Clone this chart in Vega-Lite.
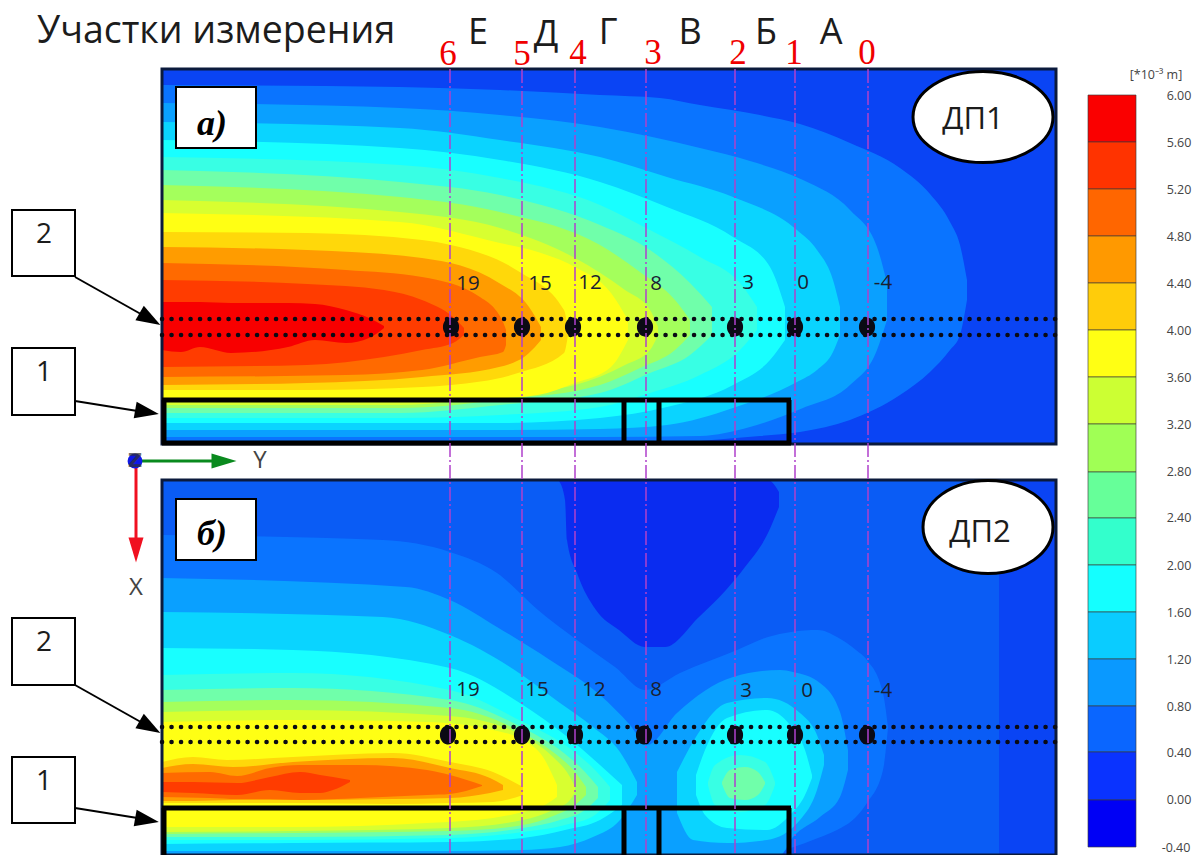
{"$schema":"https://vega.github.io/schema/vega-lite/v6.json","width":1192,"height":855,"padding":0,"autosize":{"type":"none"},"background":"white","config":{"view":{"stroke":null}},
"datasets":{"contour":[
{"g":"a","v":0,"x":162,"y":69,"y2":444},{"g":"a","v":0,"x":1056,"y":69,"y2":444},
{"g":"a","v":0.4,"x":162,"y":85,"y2":444},{"g":"a","v":0.4,"x":400,"y":87,"y2":444},{"g":"a","v":0.4,"x":500,"y":90,"y2":444},{"g":"a","v":0.4,"x":600,"y":95,"y2":444},{"g":"a","v":0.4,"x":660,"y":98,"y2":444},{"g":"a","v":0.4,"x":700,"y":105,"y2":441},{"g":"a","v":0.4,"x":760,"y":115,"y2":436},{"g":"a","v":0.4,"x":800,"y":124,"y2":432},{"g":"a","v":0.4,"x":850,"y":143,"y2":420},{"g":"a","v":0.4,"x":900,"y":168,"y2":395},{"g":"a","v":0.4,"x":930,"y":194,"y2":372},{"g":"a","v":0.4,"x":950,"y":222,"y2":350},{"g":"a","v":0.4,"x":960,"y":245,"y2":335},{"g":"a","v":0.4,"x":967,"y":280,"y2":300},
{"g":"a","v":0.8,"x":162,"y":103,"y2":437},{"g":"a","v":0.8,"x":400,"y":108,"y2":437},{"g":"a","v":0.8,"x":500,"y":115,"y2":437},{"g":"a","v":0.8,"x":600,"y":127,"y2":437},{"g":"a","v":0.8,"x":700,"y":148,"y2":436},{"g":"a","v":0.8,"x":750,"y":161,"y2":427},{"g":"a","v":0.8,"x":803,"y":180,"y2":408},{"g":"a","v":0.8,"x":850,"y":210,"y2":385},{"g":"a","v":0.8,"x":877,"y":247,"y2":350},{"g":"a","v":0.8,"x":887,"y":283,"y2":320},
{"g":"a","v":1.2,"x":162,"y":122,"y2":430},{"g":"a","v":1.2,"x":400,"y":128,"y2":430},{"g":"a","v":1.2,"x":500,"y":140,"y2":430},{"g":"a","v":1.2,"x":600,"y":157,"y2":429},{"g":"a","v":1.2,"x":667,"y":177,"y2":425},{"g":"a","v":1.2,"x":733,"y":197,"y2":408},{"g":"a","v":1.2,"x":797,"y":230,"y2":382},{"g":"a","v":1.2,"x":817,"y":250,"y2":370},{"g":"a","v":1.2,"x":833,"y":280,"y2":352},{"g":"a","v":1.2,"x":840,"y":307,"y2":335},
{"g":"a","v":1.6,"x":162,"y":140,"y2":423},{"g":"a","v":1.6,"x":400,"y":148,"y2":423},{"g":"a","v":1.6,"x":500,"y":160,"y2":423},{"g":"a","v":1.6,"x":600,"y":182,"y2":418},{"g":"a","v":1.6,"x":667,"y":207,"y2":407},{"g":"a","v":1.6,"x":733,"y":237,"y2":385},{"g":"a","v":1.6,"x":770,"y":267,"y2":360},{"g":"a","v":1.6,"x":785,"y":307,"y2":340},
{"g":"a","v":2,"x":162,"y":157,"y2":418},{"g":"a","v":2,"x":400,"y":165,"y2":418},{"g":"a","v":2,"x":500,"y":178,"y2":415},{"g":"a","v":2,"x":600,"y":205,"y2":407},{"g":"a","v":2,"x":650,"y":230,"y2":393},{"g":"a","v":2,"x":700,"y":257,"y2":375},{"g":"a","v":2,"x":740,"y":283,"y2":350},{"g":"a","v":2,"x":757,"y":307,"y2":330},
{"g":"a","v":2.4,"x":162,"y":170,"y2":413},{"g":"a","v":2.4,"x":400,"y":182,"y2":413},{"g":"a","v":2.4,"x":500,"y":195,"y2":405},{"g":"a","v":2.4,"x":600,"y":225,"y2":393},{"g":"a","v":2.4,"x":650,"y":250,"y2":373},{"g":"a","v":2.4,"x":690,"y":283,"y2":355},{"g":"a","v":2.4,"x":712,"y":307,"y2":335},
{"g":"a","v":2.8,"x":162,"y":185,"y2":408},{"g":"a","v":2.8,"x":400,"y":197,"y2":408},{"g":"a","v":2.8,"x":500,"y":212,"y2":400},{"g":"a","v":2.8,"x":600,"y":245,"y2":385},{"g":"a","v":2.8,"x":640,"y":272,"y2":368},{"g":"a","v":2.8,"x":675,"y":300,"y2":350},{"g":"a","v":2.8,"x":690,"y":320,"y2":335},
{"g":"a","v":3.2,"x":162,"y":200,"y2":405},{"g":"a","v":3.2,"x":400,"y":212,"y2":405},{"g":"a","v":3.2,"x":500,"y":228,"y2":395},{"g":"a","v":3.2,"x":575,"y":258,"y2":385},{"g":"a","v":3.2,"x":625,"y":290,"y2":365},{"g":"a","v":3.2,"x":650,"y":310,"y2":350},{"g":"a","v":3.2,"x":658,"y":327,"y2":335},
{"g":"a","v":3.6,"x":162,"y":213,"y2":398},{"g":"a","v":3.6,"x":400,"y":222,"y2":398},{"g":"a","v":3.6,"x":500,"y":243,"y2":398},{"g":"a","v":3.6,"x":538,"y":252,"y2":395},{"g":"a","v":3.6,"x":575,"y":267,"y2":383},{"g":"a","v":3.6,"x":611,"y":293,"y2":367},{"g":"a","v":3.6,"x":628,"y":320,"y2":340},
{"g":"a","v":4,"x":162,"y":232,"y2":390},{"g":"a","v":4,"x":307,"y":233,"y2":390},{"g":"a","v":4,"x":422,"y":240,"y2":387},{"g":"a","v":4,"x":451,"y":245,"y2":385},{"g":"a","v":4,"x":518,"y":271,"y2":373},{"g":"a","v":4,"x":564,"y":310,"y2":353},{"g":"a","v":4,"x":568,"y":330,"y2":335},
{"g":"a","v":4.4,"x":162,"y":247,"y2":385},{"g":"a","v":4.4,"x":307,"y":250,"y2":383},{"g":"a","v":4.4,"x":422,"y":258,"y2":377},{"g":"a","v":4.4,"x":499,"y":283,"y2":367},{"g":"a","v":4.4,"x":529,"y":307,"y2":353},{"g":"a","v":4.4,"x":541,"y":327,"y2":340},
{"g":"a","v":4.8,"x":162,"y":263,"y2":377},{"g":"a","v":4.8,"x":346,"y":270,"y2":375},{"g":"a","v":4.8,"x":422,"y":277,"y2":370},{"g":"a","v":4.8,"x":480,"y":297,"y2":357},{"g":"a","v":4.8,"x":503,"y":322,"y2":352},{"g":"a","v":4.8,"x":506,"y":330,"y2":345},
{"g":"a","v":5.2,"x":162,"y":280,"y2":367},{"g":"a","v":5.2,"x":307,"y":284,"y2":365},{"g":"a","v":5.2,"x":384,"y":290,"y2":357},{"g":"a","v":5.2,"x":422,"y":300,"y2":350},{"g":"a","v":5.2,"x":453,"y":317,"y2":343},{"g":"a","v":5.2,"x":464,"y":328,"y2":335},
{"g":"a","v":5.6,"x":162,"y":302,"y2":350},{"g":"a","v":5.6,"x":181,"y":302,"y2":352},{"g":"a","v":5.6,"x":200,"y":302,"y2":347},{"g":"a","v":5.6,"x":231,"y":303,"y2":353},{"g":"a","v":5.6,"x":288,"y":303,"y2":347},{"g":"a","v":5.6,"x":315,"y":304,"y2":340},{"g":"a","v":5.6,"x":346,"y":310,"y2":343},{"g":"a","v":5.6,"x":369,"y":318,"y2":338},{"g":"a","v":5.6,"x":384,"y":326,"y2":328},
{"g":"b","v":0.2,"x":162,"y":480,"y2":855},{"g":"b","v":0.2,"x":1056,"y":480,"y2":855},
{"g":"s","v":0,"x":999,"y":480,"y2":855},{"g":"s","v":0,"x":1056,"y":480,"y2":855},
{"g":"b","v":-0.4,"x":559,"y":480,"y2":481},{"g":"b","v":-0.4,"x":565,"y":480,"y2":500},{"g":"b","v":-0.4,"x":567,"y":480,"y2":540},{"g":"b","v":-0.4,"x":577,"y":480,"y2":573},{"g":"b","v":-0.4,"x":596,"y":480,"y2":610},{"g":"b","v":-0.4,"x":619,"y":480,"y2":630},{"g":"b","v":-0.4,"x":645,"y":480,"y2":647},{"g":"b","v":-0.4,"x":665,"y":480,"y2":647},{"g":"b","v":-0.4,"x":699,"y":480,"y2":617},{"g":"b","v":-0.4,"x":726,"y":480,"y2":590},{"g":"b","v":-0.4,"x":745,"y":480,"y2":567},{"g":"b","v":-0.4,"x":768,"y":480,"y2":533},{"g":"b","v":-0.4,"x":779,"y":492,"y2":507},
{"g":"b","v":0.4,"x":162,"y":535,"y2":855},{"g":"b","v":0.4,"x":383,"y":540,"y2":855},{"g":"b","v":0.4,"x":450,"y":552,"y2":855},{"g":"b","v":0.4,"x":497,"y":573,"y2":855},{"g":"b","v":0.4,"x":538,"y":610,"y2":855},{"g":"b","v":0.4,"x":577,"y":640,"y2":855},{"g":"b","v":0.4,"x":615,"y":667,"y2":855},{"g":"b","v":0.4,"x":645,"y":690,"y2":855},{"g":"b","v":0.4,"x":680,"y":673,"y2":855},{"g":"b","v":0.4,"x":737,"y":650,"y2":855},{"g":"b","v":0.4,"x":768,"y":637,"y2":855},{"g":"b","v":0.4,"x":791,"y":632,"y2":848},{"g":"b","v":0.4,"x":818,"y":630,"y2":838},{"g":"b","v":0.4,"x":837,"y":637,"y2":830},{"g":"b","v":0.4,"x":856,"y":650,"y2":817},{"g":"b","v":0.4,"x":867,"y":660,"y2":803},{"g":"b","v":0.4,"x":883,"y":693,"y2":770},{"g":"b","v":0.4,"x":888,"y":727,"y2":728},
{"g":"b","v":0.8,"x":162,"y":578,"y2":855},{"g":"b","v":0.8,"x":406,"y":587,"y2":855},{"g":"b","v":0.8,"x":450,"y":600,"y2":855},{"g":"b","v":0.8,"x":497,"y":627,"y2":855},{"g":"b","v":0.8,"x":550,"y":660,"y2":855},{"g":"b","v":0.8,"x":600,"y":695,"y2":855},{"g":"b","v":0.8,"x":630,"y":725,"y2":855},{"g":"b","v":0.8,"x":647,"y":745,"y2":855},{"g":"b","v":0.8,"x":677,"y":713,"y2":855},{"g":"b","v":0.8,"x":733,"y":677,"y2":855},{"g":"b","v":0.8,"x":780,"y":670,"y2":855},{"g":"b","v":0.8,"x":793,"y":672,"y2":837},{"g":"b","v":0.8,"x":820,"y":683,"y2":817},{"g":"b","v":0.8,"x":840,"y":712,"y2":797},{"g":"b","v":0.8,"x":848,"y":750,"y2":770},
{"g":"b","v":1.2,"x":162,"y":612,"y2":851},{"g":"b","v":1.2,"x":383,"y":617,"y2":851},{"g":"b","v":1.2,"x":450,"y":635,"y2":851},{"g":"b","v":1.2,"x":522,"y":675,"y2":850},{"g":"b","v":1.2,"x":560,"y":703,"y2":847},{"g":"b","v":1.2,"x":593,"y":727,"y2":837},{"g":"b","v":1.2,"x":620,"y":752,"y2":820},{"g":"b","v":1.2,"x":637,"y":782,"y2":795},
{"g":"h","v":1.2,"x":677,"y":772,"y2":813},{"g":"h","v":1.2,"x":693,"y":742,"y2":840},{"g":"h","v":1.2,"x":727,"y":703,"y2":843},{"g":"h","v":1.2,"x":767,"y":698,"y2":840},{"g":"h","v":1.2,"x":800,"y":713,"y2":820},{"g":"h","v":1.2,"x":817,"y":735,"y2":790},{"g":"h","v":1.2,"x":824,"y":755,"y2":765},
{"g":"h","v":1.6,"x":696,"y":775,"y2":795},{"g":"h","v":1.6,"x":705,"y":750,"y2":815},{"g":"h","v":1.6,"x":727,"y":718,"y2":828},{"g":"h","v":1.6,"x":767,"y":710,"y2":830},{"g":"h","v":1.6,"x":790,"y":725,"y2":815},{"g":"h","v":1.6,"x":805,"y":750,"y2":795},{"g":"h","v":1.6,"x":812,"y":775,"y2":778},
{"g":"h","v":2,"x":708,"y":782,"y2":785},{"g":"h","v":2,"x":715,"y":765,"y2":805},{"g":"h","v":2,"x":740,"y":755,"y2":812},{"g":"h","v":2,"x":765,"y":762,"y2":805},{"g":"h","v":2,"x":775,"y":782,"y2":785},
{"g":"h","v":2.4,"x":722,"y":782,"y2":784},{"g":"h","v":2.4,"x":730,"y":770,"y2":798},{"g":"h","v":2.4,"x":745,"y":767,"y2":800},{"g":"h","v":2.4,"x":758,"y":772,"y2":795},{"g":"h","v":2.4,"x":765,"y":782,"y2":784},
{"g":"b","v":1.6,"x":162,"y":648,"y2":844},{"g":"b","v":1.6,"x":293,"y":650,"y2":843},{"g":"b","v":1.6,"x":450,"y":668,"y2":842},{"g":"b","v":1.6,"x":523,"y":705,"y2":838},{"g":"b","v":1.6,"x":565,"y":735,"y2":830},{"g":"b","v":1.6,"x":600,"y":765,"y2":820},{"g":"b","v":1.6,"x":622,"y":785,"y2":805},
{"g":"b","v":2,"x":162,"y":675,"y2":840},{"g":"b","v":2,"x":293,"y":673,"y2":840},{"g":"b","v":2,"x":450,"y":690,"y2":838},{"g":"b","v":2,"x":523,"y":722,"y2":832},{"g":"b","v":2,"x":565,"y":745,"y2":825},{"g":"b","v":2,"x":595,"y":770,"y2":815},{"g":"b","v":2,"x":610,"y":787,"y2":800},
{"g":"b","v":2.4,"x":162,"y":690,"y2":837},{"g":"b","v":2.4,"x":293,"y":688,"y2":837},{"g":"b","v":2.4,"x":450,"y":700,"y2":835},{"g":"b","v":2.4,"x":523,"y":728,"y2":828},{"g":"b","v":2.4,"x":560,"y":750,"y2":820},{"g":"b","v":2.4,"x":585,"y":772,"y2":810},{"g":"b","v":2.4,"x":598,"y":787,"y2":798},
{"g":"b","v":2.8,"x":162,"y":702,"y2":834},{"g":"b","v":2.8,"x":293,"y":700,"y2":833},{"g":"b","v":2.8,"x":450,"y":708,"y2":831},{"g":"b","v":2.8,"x":523,"y":733,"y2":825},{"g":"b","v":2.8,"x":553,"y":752,"y2":816},{"g":"b","v":2.8,"x":575,"y":772,"y2":805},{"g":"b","v":2.8,"x":586,"y":787,"y2":795},
{"g":"b","v":3.2,"x":162,"y":712,"y2":832},{"g":"b","v":3.2,"x":293,"y":710,"y2":831},{"g":"b","v":3.2,"x":450,"y":716,"y2":828},{"g":"b","v":3.2,"x":523,"y":736,"y2":820},{"g":"b","v":3.2,"x":553,"y":757,"y2":810},{"g":"b","v":3.2,"x":570,"y":777,"y2":800},{"g":"b","v":3.2,"x":575,"y":787,"y2":792},
{"g":"b","v":3.6,"x":162,"y":722,"y2":827},{"g":"b","v":3.6,"x":293,"y":720,"y2":827},{"g":"b","v":3.6,"x":427,"y":722,"y2":823},{"g":"b","v":3.6,"x":493,"y":730,"y2":818},{"g":"b","v":3.6,"x":523,"y":740,"y2":812},{"g":"b","v":3.6,"x":543,"y":757,"y2":806},{"g":"b","v":3.6,"x":557,"y":785,"y2":797},
{"g":"b","v":4,"x":162,"y":762,"y2":803},{"g":"b","v":4,"x":193,"y":757,"y2":803},{"g":"b","v":4,"x":227,"y":760,"y2":803},{"g":"b","v":4,"x":293,"y":757,"y2":803},{"g":"b","v":4,"x":393,"y":753,"y2":804},{"g":"b","v":4,"x":450,"y":762,"y2":803},{"g":"b","v":4,"x":493,"y":772,"y2":802},{"g":"b","v":4,"x":523,"y":787,"y2":795},
{"g":"b","v":4.4,"x":162,"y":768,"y2":801},{"g":"b","v":4.4,"x":193,"y":764,"y2":801},{"g":"b","v":4.4,"x":233,"y":767,"y2":800},{"g":"b","v":4.4,"x":293,"y":762,"y2":800},{"g":"b","v":4.4,"x":393,"y":758,"y2":799},{"g":"b","v":4.4,"x":450,"y":768,"y2":798},{"g":"b","v":4.4,"x":490,"y":778,"y2":793},{"g":"b","v":4.4,"x":503,"y":785,"y2":790},
{"g":"b","v":4.8,"x":162,"y":773,"y2":797},{"g":"b","v":4.8,"x":210,"y":772,"y2":798},{"g":"b","v":4.8,"x":237,"y":776,"y2":799},{"g":"b","v":4.8,"x":270,"y":768,"y2":799},{"g":"b","v":4.8,"x":300,"y":765,"y2":800},{"g":"b","v":4.8,"x":360,"y":765,"y2":798},{"g":"b","v":4.8,"x":427,"y":770,"y2":795},{"g":"b","v":4.8,"x":450,"y":775,"y2":794},{"g":"b","v":4.8,"x":482,"y":785,"y2":786},
{"g":"b","v":5.2,"x":162,"y":782,"y2":792},{"g":"b","v":5.2,"x":193,"y":782,"y2":793},{"g":"b","v":5.2,"x":237,"y":783,"y2":795},{"g":"b","v":5.2,"x":270,"y":777,"y2":790},{"g":"b","v":5.2,"x":300,"y":772,"y2":793},{"g":"b","v":5.2,"x":320,"y":775,"y2":793},{"g":"b","v":5.2,"x":333,"y":777,"y2":790},{"g":"b","v":5.2,"x":350,"y":780,"y2":782}
]},
"encoding":{"x":{"field":"x","type":"quantitative","axis":null,"scale":{"domain":[0,1192],"nice":false,"zero":false}},"y":{"field":"y","type":"quantitative","axis":null,"scale":{"domain":[855,0],"nice":false,"zero":false}}},
"resolve":{"scale":{"color":"independent"}},
"layer":[
{"data":{"name":"contour"},"mark":{"type":"area","orient":"vertical","interpolate":"monotone"},"encoding":{"y2":{"field":"y2"},"detail":{"field":"g"},"color":{"field":"v","type":"ordinal","legend":null,"scale":{"domain":[-0.4,0,0.2,0.4,0.8,1.2,1.6,2,2.4,2.8,3.2,3.6,4,4.4,4.8,5.2,5.6],"range":["#0a2cf0","#0a44f4","#0a5cf5","#0a74ff","#0aa0ff","#0ad4ff","#18ffff","#38ffe4","#70ffaa","#a4ff5c","#d8ff30","#ffff14","#ffd80a","#ff9c00","#ff6a00","#ff3c00","#f80000"]}}}},
{"data":{"values":[{"x":162,"y":69,"x2":1056,"y2":444},{"x":162,"y":480,"x2":1056,"y2":855}]},"mark":{"type":"rect","fill":null,"stroke":"#0b1a3c","strokeWidth":3},"encoding":{"x2":{"field":"x2"},"y2":{"field":"y2"}}},
{"data":{"values":[{"x":162,"x2":1056,"y":319},{"x":162,"x2":1056,"y":335},{"x":162,"x2":1056,"y":727},{"x":162,"x2":1056,"y":742}]},"mark":{"type":"rule","color":"#0a0a14","strokeWidth":4.5,"strokeCap":"round","strokeDash":[0.1,9.4]},"encoding":{"x2":{"field":"x2"}}},
{"data":{"values":[{"x":451,"y":327},{"x":522,"y":327},{"x":573,"y":327},{"x":645,"y":327},{"x":735,"y":327},{"x":795,"y":327},{"x":867,"y":327},{"x":448,"y":735},{"x":522,"y":735},{"x":575,"y":735},{"x":644,"y":735},{"x":735,"y":735},{"x":795,"y":735},{"x":867,"y":735}]},"mark":{"type":"point","filled":true,"opacity":1,"color":"#0a0a14","size":361,"shape":"M-0.85,0A0.85,1,0,1,1,0.85,0A0.85,1,0,1,1,-0.85,0Z"}},
{"data":{"values":[{"x":162,"y":400,"x2":791,"y2":400},{"x":164,"y":400,"x2":164,"y2":444},{"x":162,"y":443,"x2":791,"y2":443},{"x":624,"y":400,"x2":624,"y2":444},{"x":659,"y":400,"x2":659,"y2":444},{"x":789,"y":400,"x2":789,"y2":444},{"x":162,"y":808,"x2":791,"y2":808},{"x":164,"y":808,"x2":164,"y2":855},{"x":624,"y":808,"x2":624,"y2":855},{"x":659,"y":808,"x2":659,"y2":855},{"x":789,"y":808,"x2":789,"y2":855}]},"mark":{"type":"rule","color":"#000000","strokeWidth":5},"encoding":{"x2":{"field":"x2"},"y2":{"field":"y2"}}},
{"data":{"values":[{"x":450,"y":69,"y2":855},{"x":522,"y":69,"y2":855},{"x":575,"y":69,"y2":855},{"x":646,"y":69,"y2":855},{"x":735,"y":69,"y2":855},{"x":795,"y":69,"y2":855},{"x":868,"y":69,"y2":855}]},"mark":{"type":"rule","color":"#b040cc","strokeWidth":1.5,"strokeDash":[14,3,2,3]},"encoding":{"y2":{"field":"y2"}}},
{"data":{"values":[{"x":176,"x2":256,"y":87,"y2":148},{"x":176,"x2":256,"y":499,"y2":560},{"x":12,"x2":75,"y":210,"y2":276},{"x":12,"x2":75,"y":348,"y2":415},{"x":12,"x2":75,"y":618,"y2":685},{"x":12,"x2":75,"y":757,"y2":823}]},"mark":{"type":"rect","fill":"white","stroke":"#000000","strokeWidth":2},"encoding":{"x2":{"field":"x2"},"y2":{"field":"y2"}}},
{"data":{"values":[{"x":75,"y":277,"x2":155,"y2":322},{"x":75,"y":401,"x2":150,"y2":413},{"x":75,"y":685,"x2":155,"y2":730},{"x":75,"y":808,"x2":150,"y2":820}]},"mark":{"type":"rule","color":"#000000","strokeWidth":2},"encoding":{"x2":{"field":"x2"},"y2":{"field":"y2"}}},
{"data":{"values":[{"x":150,"y":319,"a":30},{"x":147,"y":412,"a":10},{"x":150,"y":727,"a":30},{"x":147,"y":820,"a":10}]},"mark":{"type":"point","filled":true,"opacity":1,"color":"#000000","size":576,"shape":"M-1,-0.7L1,0L-1,0.7Z"},"encoding":{"angle":{"field":"a","type":"quantitative","scale":null}}},
{"data":{"values":[{"x":136,"y":461,"x2":215}]},"mark":{"type":"rule","color":"#0a8a1e","strokeWidth":3},"encoding":{"x2":{"field":"x2"}}},
{"data":{"values":[{"x":224,"y":461,"a":0}]},"mark":{"type":"point","filled":true,"opacity":1,"color":"#0a8a1e","size":625,"shape":"M-1,-0.6L1,0L-1,0.6Z"},"encoding":{"angle":{"field":"a","type":"quantitative","scale":null}}},
{"data":{"values":[{"x":136,"y":465,"y2":540}]},"mark":{"type":"rule","color":"#f01020","strokeWidth":3},"encoding":{"y2":{"field":"y2"}}},
{"data":{"values":[{"x":136,"y":550,"a":90}]},"mark":{"type":"point","filled":true,"opacity":1,"color":"#f01020","size":625,"shape":"M-1,-0.6L1,0L-1,0.6Z"},"encoding":{"angle":{"field":"a","type":"quantitative","scale":null}}},
{"data":{"values":[{"x":135,"y":461}]},"mark":{"type":"point","filled":true,"opacity":1,"color":"#1018e8","size":220}},
{"data":{"values":[{"x":135,"y":461,"t":"Z"}]},"mark":{"type":"text","font":"DejaVu Sans","fontSize":20,"fontWeight":"bold","color":"#333333","opacity":0.7},"encoding":{"text":{"field":"t"}}},
{"data":{"values":[{"x":983,"y":117}]},"mark":{"type":"point","filled":true,"opacity":1,"fill":"white","stroke":"#000000","strokeWidth":3,"size":19600,"shape":"M-1,0A1,0.65,0,1,1,1,0A1,0.65,0,1,1,-1,0Z"}},
{"data":{"values":[{"x":988,"y":527}]},"mark":{"type":"point","filled":true,"opacity":1,"fill":"white","stroke":"#000000","strokeWidth":3,"size":16900,"shape":"M-1,0A1,0.715,0,1,1,1,0A1,0.715,0,1,1,-1,0Z"}},
{"data":{"values":[{"x":37,"y":32,"t":"Участки измерения"}]},"mark":{"type":"text","align":"left","font":"Open Sans","fontSize":37.5,"color":"#1c1c1c"},"encoding":{"text":{"field":"t"}}},
{"data":{"values":[{"x":478,"y":33,"t":"Е"},{"x":546,"y":35,"t":"Д"},{"x":608,"y":33,"t":"Г"},{"x":690,"y":33,"t":"В"},{"x":766,"y":33,"t":"Б"},{"x":831,"y":33,"t":"А"}]},"mark":{"type":"text","font":"Open Sans","fontSize":36,"color":"#1c1c1c"},"encoding":{"text":{"field":"t"}}},
{"data":{"values":[{"x":448,"y":54,"t":"6"},{"x":522,"y":54,"t":"5"},{"x":578,"y":53,"t":"4"},{"x":653,"y":53,"t":"3"},{"x":738,"y":53,"t":"2"},{"x":794,"y":53,"t":"1"},{"x":867,"y":53,"t":"0"}]},"mark":{"type":"text","font":"Liberation Serif","fontSize":35,"color":"#f00000"},"encoding":{"text":{"field":"t"}}},
{"data":{"values":[{"x":468,"y":284,"t":"19"},{"x":540,"y":284,"t":"15"},{"x":590,"y":283,"t":"12"},{"x":656,"y":284,"t":"8"},{"x":748,"y":283,"t":"3"},{"x":803,"y":283,"t":"0"},{"x":883,"y":283,"t":"-4"},{"x":468,"y":690,"t":"19"},{"x":537,"y":690,"t":"15"},{"x":594,"y":690,"t":"12"},{"x":656,"y":690,"t":"8"},{"x":746,"y":691,"t":"3"},{"x":807,"y":691,"t":"0"},{"x":883,"y":691,"t":"-4"}]},"mark":{"type":"text","font":"Open Sans","fontSize":20.5,"color":"#1a2030"},"encoding":{"text":{"field":"t"}}},
{"data":{"values":[{"x":44,"y":235,"t":"2"},{"x":44,"y":373,"t":"1"},{"x":44,"y":643,"t":"2"},{"x":44,"y":782,"t":"1"}]},"mark":{"type":"text","font":"Open Sans","fontSize":28,"color":"#1c1c1c"},"encoding":{"text":{"field":"t"}}},
{"data":{"values":[{"x":212,"y":124,"t":"а)"},{"x":212,"y":534,"t":"б)"}]},"mark":{"type":"text","font":"Liberation Serif","fontSize":36,"fontStyle":"italic","fontWeight":"bold","color":"#000000"},"encoding":{"text":{"field":"t"}}},
{"data":{"values":[{"x":973,"y":120,"t":"ДП1"},{"x":980,"y":533,"t":"ДП2"}]},"mark":{"type":"text","font":"Open Sans","fontSize":31,"color":"#1c1c1c"},"encoding":{"text":{"field":"t"}}},
{"data":{"values":[{"x":260,"y":461,"t":"Y"},{"x":136,"y":588,"t":"X"}]},"mark":{"type":"text","font":"Open Sans","fontSize":24,"color":"#444444"},"encoding":{"text":{"field":"t"}}},
{"data":{"values":[{"v":"5.6","x":1088,"x2":1136,"y":95,"y2":142},{"v":"5.2","x":1088,"x2":1136,"y":142,"y2":189},{"v":"4.8","x":1088,"x2":1136,"y":189,"y2":236},{"v":"4.4","x":1088,"x2":1136,"y":236,"y2":283},{"v":"4.0","x":1088,"x2":1136,"y":283,"y2":330},{"v":"3.6","x":1088,"x2":1136,"y":330,"y2":377},{"v":"3.2","x":1088,"x2":1136,"y":377,"y2":424},{"v":"2.8","x":1088,"x2":1136,"y":424,"y2":472},{"v":"2.4","x":1088,"x2":1136,"y":472,"y2":518},{"v":"2.0","x":1088,"x2":1136,"y":518,"y2":565},{"v":"1.6","x":1088,"x2":1136,"y":565,"y2":612},{"v":"1.2","x":1088,"x2":1136,"y":612,"y2":659},{"v":"0.8","x":1088,"x2":1136,"y":659,"y2":706},{"v":"0.4","x":1088,"x2":1136,"y":706,"y2":752},{"v":"0.0","x":1088,"x2":1136,"y":752,"y2":800},{"v":"-0.4","x":1088,"x2":1136,"y":800,"y2":847}]},"mark":{"type":"rect","stroke":"#3a3a3a","strokeWidth":0.8,"strokeOpacity":0.8},"encoding":{"x2":{"field":"x2"},"y2":{"field":"y2"},"color":{"field":"v","type":"ordinal","legend":null,"scale":{"domain":["5.6","5.2","4.8","4.4","4.0","3.6","3.2","2.8","2.4","2.0","1.6","1.2","0.8","0.4","0.0","-0.4"],"range":["#fa0000","#ff3300","#ff6600","#ff9900","#ffcc0a","#ffff14","#ccff33","#a0ff55","#66ff99","#33ffcc","#14ffff","#0accff","#0a99ff","#0a66ff","#0a33ff","#0000f5"]}}}},
{"data":{"values":[{"x":1179,"y":96,"t":"6.00"},{"x":1179,"y":143,"t":"5.60"},{"x":1179,"y":190,"t":"5.20"},{"x":1179,"y":237,"t":"4.80"},{"x":1179,"y":284,"t":"4.40"},{"x":1179,"y":331,"t":"4.00"},{"x":1179,"y":378,"t":"3.60"},{"x":1179,"y":425,"t":"3.20"},{"x":1179,"y":472,"t":"2.80"},{"x":1179,"y":518,"t":"2.40"},{"x":1179,"y":566,"t":"2.00"},{"x":1179,"y":613,"t":"1.60"},{"x":1179,"y":660,"t":"1.20"},{"x":1179,"y":707,"t":"0.80"},{"x":1179,"y":753,"t":"0.40"},{"x":1179,"y":800,"t":"0.00"},{"x":1176,"y":848,"t":"-0.40"},{"x":1156,"y":75,"t":"[*10⁻³ m]"}]},"mark":{"type":"text","font":"Open Sans","fontSize":12.5,"color":"#444444"},"encoding":{"text":{"field":"t"}}}
]}
